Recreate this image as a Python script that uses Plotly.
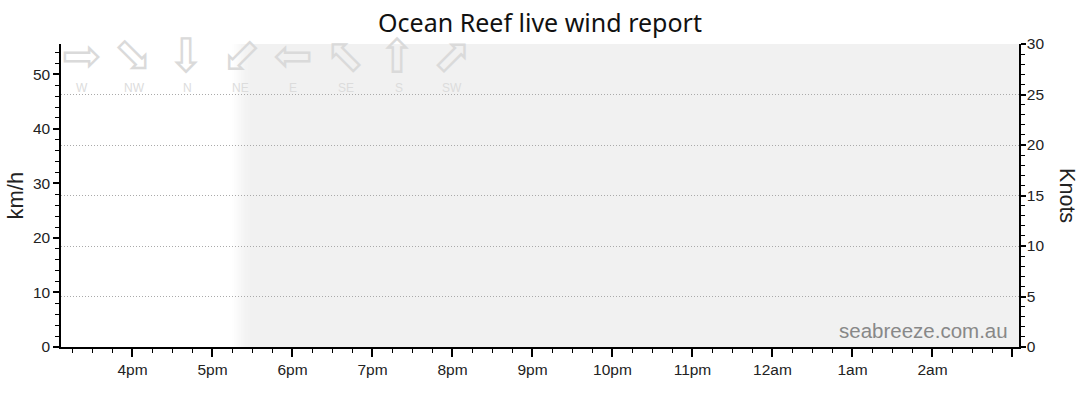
import plotly.graph_objects as go

# chart text
title_text = "Ocean Reef live wind report"
left_title = "km/h"
right_title = "Knots"
watermark = "seabreeze.com.au"

# x axis (time of day)
x_start = "2024-01-01 15:06:24"
x_end = "2024-01-02 03:04:54"
hour_ticks = ["2024-01-01 16:00", "2024-01-01 17:00", "2024-01-01 18:00", "2024-01-01 19:00",
              "2024-01-01 20:00", "2024-01-01 21:00", "2024-01-01 22:00", "2024-01-01 23:00",
              "2024-01-02 00:00", "2024-01-02 01:00", "2024-01-02 02:00", "2024-01-02 03:00"]
hour_labels = ["4pm", "5pm", "6pm", "7pm", "8pm", "9pm", "10pm", "11pm", "12am", "1am", "2am", ""]

# y axes
kmh_ticks = [0, 10, 20, 30, 40, 50]
knots_ticks = [0, 5, 10, 15, 20, 25, 30]
knots_max = 30
kmh_max = knots_max * 1.852

# night shading (after sunset), fades in over a few minutes
night_fade = ["2024-01-01 17:14:36", "2024-01-01 17:16:18", "2024-01-01 17:18:00",
              "2024-01-01 17:19:42", "2024-01-01 17:21:24", "2024-01-01 17:23:06",
              "2024-01-01 17:24:48", "2024-01-01 17:26:30", "2024-01-01 17:28:12"]
night_grey = ["#fefefe", "#fcfcfc", "#fafafa", "#f8f8f8", "#f6f6f6", "#f4f4f4", "#f3f3f3", "#f2f2f2", "#f1f1f1"]

# wind direction legend (arrow points where the wind blows to)
directions = ["W", "NW", "N", "NE", "E", "SE", "S", "SW"]
arrow_glyphs = ["\u21e8", "\u21e8", "\u21e8", "\u21e6", "\u21e6", "\u21e6", "\u21e6", "\u21e8"]
arrow_angles = [0, 45, 90, -45, 0, 45, 90, -45]

# no readings available for this period
times = []
speed_kmh = []
speed_knots = []

fig = go.Figure()
fig.add_trace(go.Scatter(x=times, y=speed_kmh, mode='lines', showlegend=False))
fig.add_trace(go.Scatter(x=times, y=speed_knots, mode='lines', yaxis='y2', showlegend=False))

# night background
for i, t0 in enumerate(night_fade):
    fig.add_shape(type='rect', xref='x', yref='paper', x0=t0, x1=x_end, y0=0, y1=1,
                  fillcolor=night_grey[i], line_width=0, layer='below')

# direction arrows
for i, d in enumerate(directions):
    xp = 0.022 + i * 0.0551
    fig.add_annotation(x=xp, y=0.963, xref='paper', yref='paper', text=arrow_glyphs[i],
                       xanchor='center', yanchor='middle',
                       textangle=arrow_angles[i], showarrow=False,
                       font=dict(family="DejaVu Sans", size=48, color="#dadada"))
    fig.add_annotation(x=xp, y=0.855, xref='paper', yref='paper', text=d, showarrow=False,
                       xanchor='center', yanchor='middle',
                       font=dict(family="Liberation Sans", size=12, color="#dcdcdc"))

fig.add_annotation(x=0.991, y=0.01, xref='paper', yref='paper', text=watermark,
                   xanchor='right', yanchor='bottom', showarrow=False,
                   font=dict(family="Liberation Sans", size=20.5, color="#888888"))

fig.add_annotation(x=-0.048, y=0.5, xref='paper', yref='paper', text=left_title,
                   xanchor='center', yanchor='middle',
                   textangle=-90, showarrow=False,
                   font=dict(family="Liberation Sans", size=22, color="#222222"))
fig.add_annotation(x=1.0505, y=0.5, xref='paper', yref='paper', text=right_title,
                   xanchor='center', yanchor='middle',
                   textangle=90, showarrow=False,
                   font=dict(family="Liberation Sans", size=21.5, color="#222222"))

axis_font = dict(family="Liberation Sans", size=15.5, color="#222222")

fig.update_layout(
    width=1080, height=414,
    margin=dict(l=61, r=61, t=44, b=67),
    paper_bgcolor='white', plot_bgcolor='white',
    title=dict(text=title_text, x=0.5, xanchor='center', y=0.945, yanchor='middle',
               font=dict(family="Noto Sans", size=25, color="#111111")),
    xaxis=dict(
        type='date', range=[x_start, x_end],
        tickmode='array', tickvals=hour_ticks, ticktext=hour_labels,
        ticks='outside', ticklen=8, tickwidth=1.5, tickcolor='black',
        minor=dict(dtick=15 * 60 * 1000, ticks='outside', ticklen=4, tickwidth=1, tickcolor='black'),
        showline=True, linecolor='black', linewidth=1.5,
        showgrid=False, zeroline=False, tickfont=axis_font, automargin=False,
    ),
    yaxis=dict(
        range=[0, kmh_max], tickmode='array', tickvals=kmh_ticks,
        ticks='outside', ticklen=6, tickwidth=1.5, tickcolor='black',
        minor=dict(dtick=2, ticks='outside', ticklen=4, tickwidth=1, tickcolor='black'),
        showline=True, linecolor='black', linewidth=1.5,
        showgrid=False, zeroline=False, tickfont=axis_font, automargin=False,
    ),
    yaxis2=dict(
        range=[0, knots_max], overlaying='y', side='right', tickmode='array', tickvals=knots_ticks,
        ticks='outside', ticklen=5, tickwidth=1.5, tickcolor='black',
        minor=dict(dtick=1, ticks='outside', ticklen=4, tickwidth=1, tickcolor='black'),
        showline=True, linecolor='black', linewidth=1.5,
        showgrid=True, gridcolor='#aaaaaa', gridwidth=1, griddash='1px,2px',
        zeroline=False, tickfont=axis_font, automargin=False, ticklabelstandoff=-2,
    ),
)

fig.write_html("out.html", config={'displayModeBar': False},
               post_script="document.body.style.margin = '0';")
